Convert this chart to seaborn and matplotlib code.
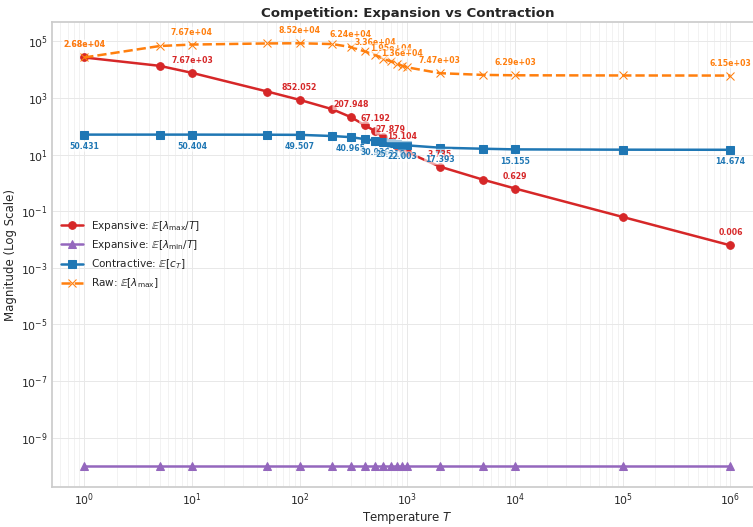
import numpy as np
import pandas as pd
import matplotlib
matplotlib.use('Agg')
import matplotlib.pyplot as plt
import seaborn as sns

# temperatures used in the sweep
temps = [1, 5, 10, 50, 100, 200, 300, 400, 500, 600, 700, 800, 900, 1000,
         2000, 5000, 10000, 100000, 1000000]

# E[lambda_max / T]
exp_max = [26800, 13600, 7670, 1680, 852.052, 400, 207.948, 110, 67.192, 40,
           27.879, 20, 15.104, 12, 3.735, 1.3, 0.629, 0.062, 0.00615]
# E[lambda_min / T] (floored)
exp_min = [1e-10] * 19
# E[c_T]
contr = [50.431, 50.42, 50.404, 50.0, 49.507, 45.0, 40.965, 35.0, 30.936, 28.0,
         25.218, 23.5, 22.003, 21.0, 17.393, 16.0, 15.155, 14.8, 14.674]
# E[lambda_max]
raw_max = [26800, 68000, 76700, 84000, 85200, 80000, 62400, 44000, 33600, 24000,
           19500, 16000, 13600, 12000, 7470, 6500, 6290, 6200, 6150]

series = [
    (r'Expansive: $\mathbb{E}[\lambda_{\max}/T]$', exp_max, '#d62728', 'o', '-'),
    (r'Expansive: $\mathbb{E}[\lambda_{\min}/T]$', exp_min, '#9467bd', '^', '-'),
    (r'Contractive: $\mathbb{E}[c_T]$', contr, '#1f77b4', 's', '-'),
    (r'Raw: $\mathbb{E}[\lambda_{\max}]$', raw_max, '#ff7f0e', 'x', '--'),
]

sns.set_theme(style='whitegrid')
fig, ax = plt.subplots(figsize=(7.53, 5.27), dpi=100)

for label, vals, col, mk, ls in series:
    df = pd.DataFrame({'T': temps, 'v': vals})
    sns.lineplot(data=df, x='T', y='v', ax=ax, color=col, marker=mk, linestyle=ls,
                 linewidth=1.8, markersize=5.5, markeredgecolor=col, label=label)

ax.set_xscale('log')
ax.set_yscale('log')

def fmt(v):
    return f'{v:.2e}' if v >= 1000 else f'{v:.3f}'

# label every other point
for label, vals, col, mk, ls in series:
    if mk == '^':
        continue
    dy = -8.5 if mk == 's' else 9
    for i in range(0, len(temps), 2):
        ax.annotate(fmt(vals[i]), (temps[i], vals[i]), textcoords='offset points',
                    xytext=(0, dy), ha='center', va='center', fontsize=5.6,
                    fontweight='bold', color=col,
                    bbox=dict(boxstyle='round,pad=0.1', fc='white', ec='none', alpha=0.6))

ax.grid(False, which='minor', axis='y')
ax.grid(True, which='minor', axis='x', color='.94', linewidth=0.6)
ax.grid(True, which='major', color='.91', linewidth=0.7)
ax.set_title('Competition: Expansion vs Contraction', fontsize=9.6, fontweight='bold', pad=4)
ax.set_xlabel('Temperature $T$', fontsize=8.5, labelpad=2)
ax.set_ylabel('Magnitude (Log Scale)', fontsize=8.5, labelpad=3)
ax.tick_params(which='both', labelsize=7.8, pad=3, length=0)
ax.legend(loc='center left', frameon=False, fontsize=7.6)

# right spine sits just past the image edge, as in the reference
plt.subplots_adjust(left=0.069, right=1.013, top=0.958, bottom=0.076)
plt.savefig('out.png', dpi=100)
